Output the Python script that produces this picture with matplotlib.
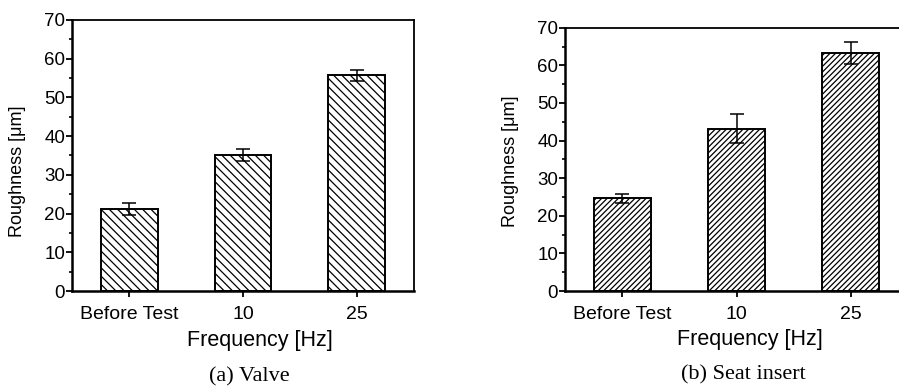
import matplotlib
matplotlib.use("Agg")
import matplotlib.pyplot as plt
import numpy as np

# data
categories = ["Before Test", "10", "25"]
valve_mean = [21.1, 35.1, 55.7]
valve_err = [1.5, 1.6, 1.5]
seat_mean = [24.6, 43.2, 63.2]
seat_err = [1.3, 3.8, 2.9]

plt.rcParams["font.family"] = ["Liberation Sans", "DejaVu Sans"]
plt.rcParams["hatch.linewidth"] = 0.9

fig = plt.figure(figsize=(8.99, 3.88), dpi=100)
ax1 = fig.add_axes([0.0801, 0.25, 0.3804, 0.6985])
ax2 = fig.add_axes([0.6285, 0.25, 0.3815, 0.6786])


def draw_panel(ax, mean, err, hatch, ylab_y, xlab_x):
    x = np.arange(len(categories))
    ax.bar(x, mean, width=0.5, color="white", edgecolor="black",
           linewidth=1.4, hatch=hatch, zorder=2)
    ax.errorbar(x, mean, yerr=err, fmt="none", ecolor="black",
                elinewidth=1.1, capsize=4.7, capthick=1.1, zorder=3)
    ax.set_xlim(-0.5, 2.5)
    ax.set_ylim(0, 70)
    ax.set_xticks(x)
    ax.set_xticklabels(categories, fontsize=14)
    ax.set_yticks(np.arange(0, 71, 10))
    ax.set_yticks(np.arange(5, 70, 10), minor=True)
    ax.tick_params(axis="y", which="major", direction="out", length=4,
                   width=1.3, labelsize=13.5, pad=1)
    ax.tick_params(axis="y", which="minor", direction="out", length=2.5,
                   width=1.2)
    ax.tick_params(axis="x", which="major", direction="out", length=4,
                   width=1.3, pad=7)
    for side in ["left", "bottom"]:
        ax.spines[side].set_linewidth(1.8)
    for side in ["top", "right"]:
        ax.spines[side].set_linewidth(1.3)
    ax.set_ylabel("Roughness [\u03bcm]", fontsize=13)
    ax.yaxis.set_label_coords(-0.135, ylab_y)
    ax.set_xlabel("Frequency [Hz]", fontsize=15.5)
    ax.xaxis.set_label_coords(xlab_x, -0.145)
    ax.xaxis.label.set_va("top")


draw_panel(ax1, valve_mean, valve_err, "\\\\\\\\", 0.443, 0.55)
draw_panel(ax2, seat_mean, seat_err, "//////", 0.494, 0.54)

fig.text(249 / 899, 1 - 377 / 388, "(a) Valve", family="Liberation Serif",
         fontsize=16, ha="center", va="center")
fig.text(743 / 899, 1 - 375 / 388, "(b) Seat insert", family="Liberation Serif",
         fontsize=16, ha="center", va="center")

fig.savefig("out.png", dpi=100)
